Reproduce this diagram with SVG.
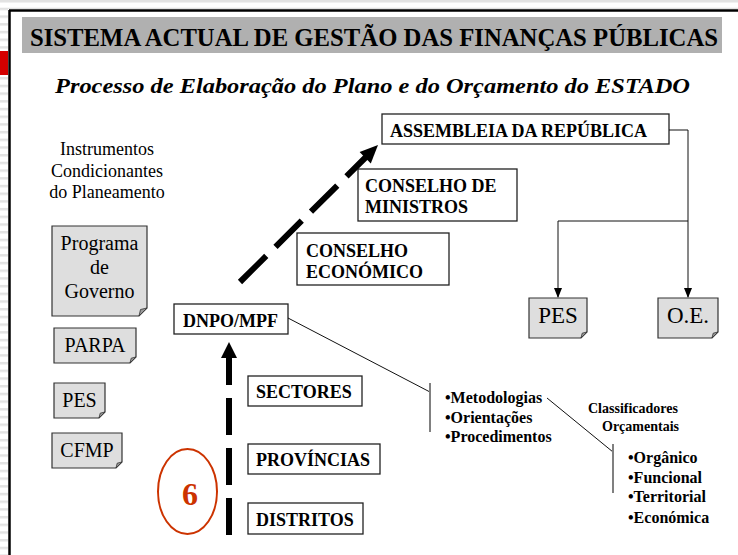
<svg xmlns="http://www.w3.org/2000/svg" width="738" height="555" viewBox="0 0 738 555">
<style>
text{font-family:"Liberation Serif","Times New Roman",serif;fill:#000}
.b{font-weight:bold;font-size:18px}
.r{font-size:20px}
.bul{font-weight:bold;font-size:16px}
.box{fill:#fff;stroke:#222;stroke-width:1.3}
.doc{fill:#dedede;stroke:#333;stroke-width:1.2}
.fold{fill:#999;stroke:#333;stroke-width:0.8}
.thin{fill:none;stroke:#111;stroke-width:1}
.bar{stroke:#808080;stroke-width:2}
</style>
<defs>
<pattern id="stripe" width="8" height="7.7" patternUnits="userSpaceOnUse">
<rect width="8" height="2.5" fill="#e2e2e2"/>
</pattern>
<marker id="ah" markerWidth="10" markerHeight="10" refX="9" refY="5" orient="auto" markerUnits="userSpaceOnUse">
<path d="M0,1 L10,5 L0,9 Z" fill="#000"/>
</marker>
</defs>
<rect width="738" height="555" fill="#fff"/>
<rect x="0" y="0" width="8" height="555" fill="url(#stripe)"/>
<rect x="8" y="0" width="730" height="9" fill="url(#stripe)"/>
<rect x="0" y="51" width="8" height="24" fill="#d40000"/>
<line x1="9.5" y1="10" x2="9.5" y2="555" stroke="#000" stroke-width="2.5"/>
<line x1="9" y1="10.5" x2="738" y2="10.5" stroke="#000" stroke-width="2.5"/>

<g id="title">
<rect x="22" y="17" width="700" height="36" fill="#b0b0b0"/>
<text x="30" y="46" font-size="25" font-weight="bold" textLength="688" lengthAdjust="spacingAndGlyphs">SISTEMA ACTUAL DE GESTÃO DAS FINANÇAS PÚBLICAS</text>
</g>
<g id="subtitle">
<text x="55" y="93" font-size="22" font-weight="bold" font-style="italic" textLength="635" lengthAdjust="spacingAndGlyphs">Processo de Elaboração do Plano e do Orçamento do ESTADO</text>
</g>

<g id="instrumentos" text-anchor="middle">
<text x="107" y="155" font-size="18">Instrumentos</text>
<text x="107" y="177" font-size="18">Condicionantes</text>
<text x="107" y="198" font-size="18">do Planeamento</text>
</g>

<g id="programa">
<path class="doc" d="M52,226 H147 V308 L139,316 H52 Z"/>
<path class="fold" d="M147,308 L139,316 L140.5,309.5 Z"/>
<text class="r" x="99.5" y="250" text-anchor="middle">Programa</text>
<text class="r" x="99.5" y="274" text-anchor="middle">de</text>
<text class="r" x="99.5" y="298" text-anchor="middle">Governo</text>
</g>
<g id="parpa">
<path class="doc" d="M54,328 H136 V357 L130,363 H54 Z"/>
<path class="fold" d="M136,357 L130,363 L131.2,358.2 Z"/>
<text class="r" x="95" y="352" text-anchor="middle">PARPA</text>
</g>
<g id="pes-left">
<path class="doc" d="M54,383 H105 V412 L99,418 H54 Z"/>
<path class="fold" d="M105,412 L99,418 L100.2,413.2 Z"/>
<text class="r" x="79.5" y="407" text-anchor="middle">PES</text>
</g>
<g id="cfmp">
<path class="doc" d="M52,433 H122 V462 L116,468 H52 Z"/>
<path class="fold" d="M122,462 L116,468 L117.2,463.2 Z"/>
<text class="r" x="87" y="457" text-anchor="middle">CFMP</text>
</g>

<g id="assembleia">
<rect class="box" x="382" y="114" width="287" height="30"/>
<text class="b" x="390" y="137">ASSEMBLEIA DA REPÚBLICA</text>
</g>
<g id="conselho-ministros">
<rect class="box" x="358" y="169" width="159" height="52"/>
<text class="b" x="365" y="192">CONSELHO DE</text>
<text class="b" x="365" y="213">MINISTROS</text>
</g>
<g id="conselho-economico">
<rect class="box" x="297" y="233" width="152" height="52"/>
<text class="b" x="306" y="257">CONSELHO</text>
<text class="b" x="306" y="278">ECONÓMICO</text>
</g>
<g id="dnpo">
<rect class="box" x="174" y="304" width="114" height="30"/>
<text class="b" x="183" y="327">DNPO/MPF</text>
</g>
<g id="sectores">
<rect class="box" x="248" y="376" width="114" height="30"/>
<text class="b" x="256" y="398">SECTORES</text>
</g>
<g id="provincias">
<rect class="box" x="248" y="444" width="132" height="30"/>
<text class="b" x="256" y="466">PROVÍNCIAS</text>
</g>
<g id="distritos">
<rect class="box" x="248" y="503" width="115" height="31"/>
<text class="b" x="256" y="526">DISTRITOS</text>
</g>

<g id="pes-right">
<path class="doc" d="M529,298 H587 V332 L581,338 H529 Z"/>
<path class="fold" d="M587,332 L581,338 L582.2,333.2 Z"/>
<text x="558" y="323" font-size="23" text-anchor="middle">PES</text>
</g>
<g id="oe">
<path class="doc" d="M658,298 H718 V332 L712,338 H658 Z"/>
<path class="fold" d="M718,332 L712,338 L713.2,333.2 Z"/>
<text x="688" y="323" font-size="23" text-anchor="middle">O.E.</text>
</g>

<g id="badge6">
<ellipse cx="187.5" cy="491.5" rx="29.5" ry="42.5" fill="none" stroke="#cc3300" stroke-width="2"/>
<text x="190" y="505" font-size="32" font-weight="bold" text-anchor="middle" style="fill:#cc3300">6</text>
</g>

<g id="metodologias">
<text class="bul" x="445" y="403">•Metodologias</text>
<text class="bul" x="445" y="423">•Orientações</text>
<text class="bul" x="445" y="442">•Procedimentos</text>
</g>
<g id="classificadores">
<text x="588" y="413" font-size="14" font-weight="bold">Classificadores</text>
<text x="602" y="431" font-size="14" font-weight="bold">Orçamentais</text>
<text class="bul" x="628" y="463">•Orgânico</text>
<text class="bul" x="628" y="483">•Funcional</text>
<text class="bul" x="628" y="502">•Territorial</text>
<text class="bul" x="628" y="523">•Económica</text>
</g>

<g id="connectors">
<line x1="229" y1="535" x2="229" y2="356" stroke="#000" stroke-width="6" stroke-dasharray="37 13"/>
<polygon points="229,342 221,358 237,358" fill="#000"/>
<line x1="240" y1="282" x2="366" y2="157" stroke="#000" stroke-width="6" stroke-dasharray="37 13"/>
<polygon points="378,145 370.8,163.4 359.6,152" fill="#000"/>
<polyline class="thin" points="669,130 688,130 688,297" marker-end="url(#ah)"/>
<polyline class="thin" points="688,221 558,221 558,297" marker-end="url(#ah)"/>
<line class="thin" x1="288" y1="318" x2="430" y2="392"/>
<line class="bar" x1="430" y1="383" x2="430" y2="432"/>
<line class="thin" x1="547" y1="398" x2="613" y2="452"/>
<line class="bar" x1="613" y1="444" x2="613" y2="493"/>
</g>
</svg>
